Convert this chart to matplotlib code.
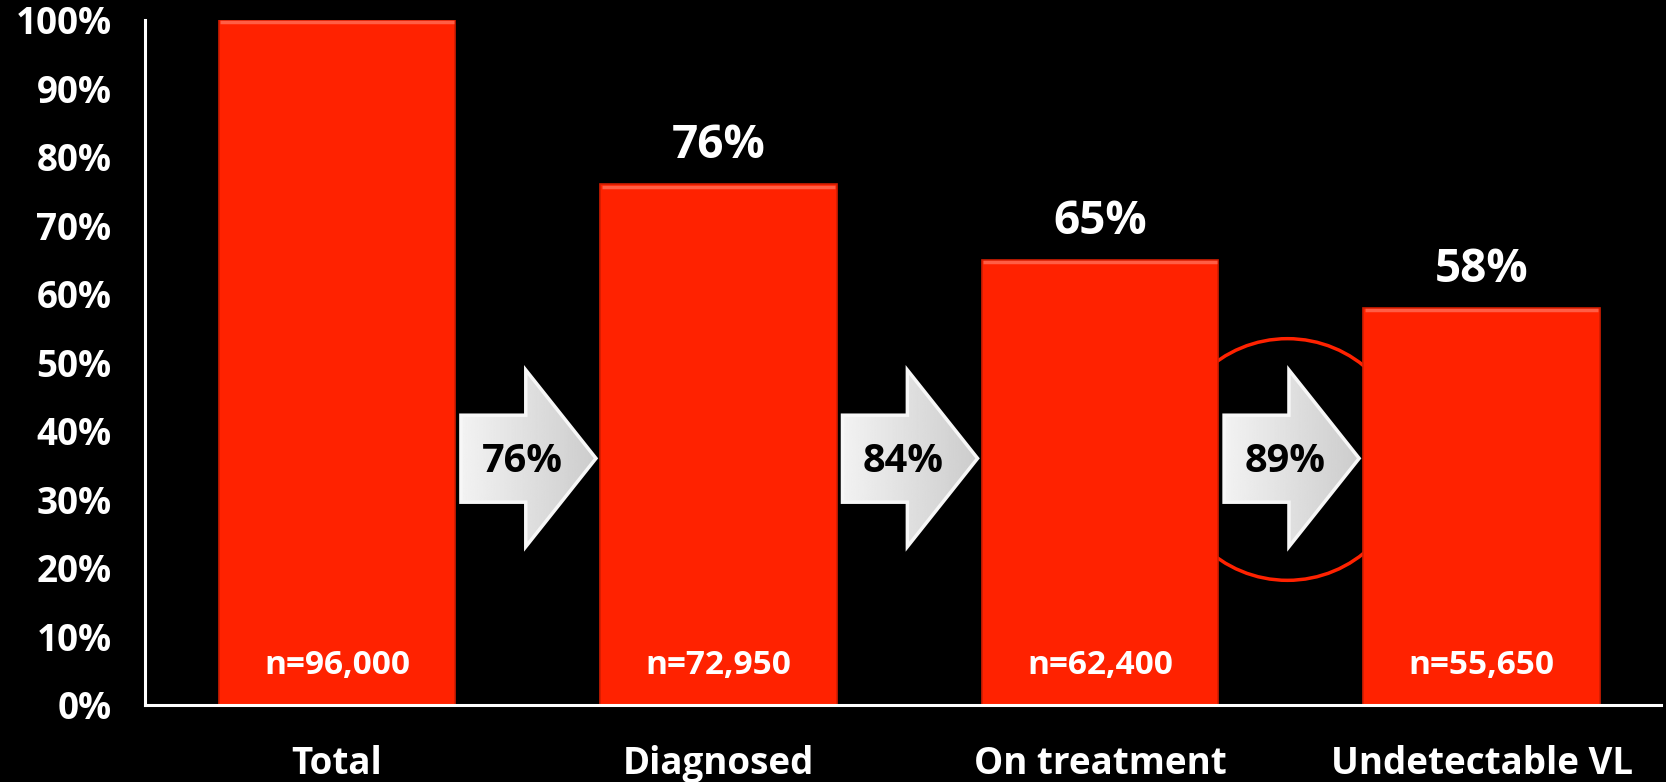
import matplotlib.pyplot as plt
import numpy as np
from matplotlib.patches import Polygon
from matplotlib.transforms import ScaledTranslation

# data
stages = ['Total', 'Diagnosed', 'On treatment', 'Undetectable VL']
counts = [96000, 72950, 62400, 55650]
pct = [100, 76, 65, 58]
step_pct = [76, 84, 89]

font = 'Open Sans'
red = '#ff2200'

fig = plt.figure(figsize=(16.66, 7.82), dpi=100, facecolor='black')
ax = fig.add_axes([0.087, 0.0985, 0.91, 0.876])
ax.set_facecolor('black')

x = np.arange(len(stages))
bw = 0.62
ax.bar(x, pct, width=bw, color=red, edgecolor='#d21c00', linewidth=1.2, zorder=2)
# light top edge (bevel look)
ax.hlines(np.array(pct) - 0.35, x - bw / 2 + 0.004, x + bw / 2 - 0.004,
          color='#ff5e45', linewidth=2.5, zorder=2.5)

# top value labels (not on the first bar)
for i in x[1:]:
    ax.text(i, pct[i] + 5.6, f'{pct[i]}%', ha='center', va='center',
            color='white', fontsize=33, fontweight='bold', family=font, zorder=4)

# n= labels inside bars
for i in x:
    ax.text(i, 5.8, f'n={counts[i]:,}', ha='center', va='center',
            color='white', fontsize=24, fontweight='bold', family=font, zorder=4)

# arrows between bars
grad = np.linspace(0.95, 0.80, 200).reshape(1, -1)
for i, s in enumerate(step_pct):
    x0, xh, x1 = i + 0.325, i + 0.495, i + 0.679
    pts = [(x0, 42.3), (xh, 42.3), (xh, 48.9), (x1, 36.0),
           (xh, 23.1), (xh, 29.6), (x0, 29.6)]
    poly = Polygon(pts, closed=True, facecolor='none', edgecolor='#f7f7f7',
                   linewidth=2.5, zorder=3.5)
    ax.add_patch(poly)
    im = ax.imshow(grad, cmap='gray', vmin=0, vmax=1, aspect='auto',
                   extent=(x0, x1, 23.1, 48.9), zorder=3)
    im.set_clip_path(poly)
    ax.text(i + 0.485, 35.5, f'{s}%', ha='center', va='center', color='black',
            fontsize=28.5, fontweight='bold', family=font, zorder=4)

# red circle highlighting the last step
ax.plot(2.49, 35.9, 'o', ms=174, mfc='none', mec=red, mew=2.5, zorder=1)

ax.set_xlim(-0.503, 3.47)
ax.set_ylim(0, 100)

ax.set_yticks(range(0, 101, 10))
ax.set_yticklabels([f'{v}%' for v in range(0, 101, 10)], fontsize=26.5,
                   fontweight='bold', family=font, color='white')
for lbl in ax.get_yticklabels():
    lbl.set_transform(lbl.get_transform() + ScaledTranslation(0, -0.065, fig.dpi_scale_trans))

ax.set_xticks(x)
ax.set_xticklabels(stages, fontsize=26.5, fontweight='bold', family=font, color='white')
ax.tick_params(axis='y', length=0, pad=24)
ax.tick_params(axis='x', length=0, pad=29)

for side in ['top', 'right']:
    ax.spines[side].set_visible(False)
for side in ['left', 'bottom']:
    ax.spines[side].set_color('white')
    ax.spines[side].set_linewidth(2.2)

fig.savefig('out.png', dpi=100, facecolor='black')
